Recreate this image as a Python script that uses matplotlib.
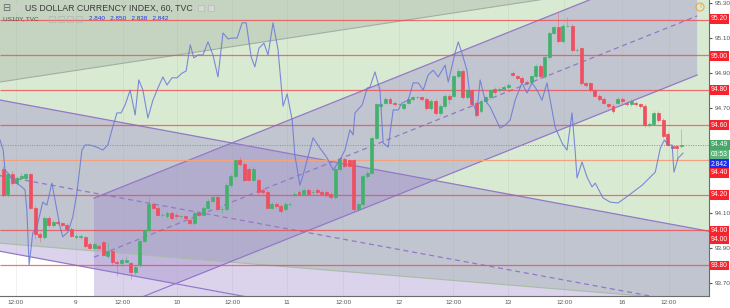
"""US Dollar Currency Index 60-min chart with channels and US10Y overlay."""
import numpy as np
import matplotlib
matplotlib.use("Agg")
import matplotlib.pyplot as plt
from matplotlib.patches import Rectangle

plt.rcParams["font.family"] = ["Liberation Sans", "DejaVu Sans"]

# hourly candles; x = hours from day "9" 00:00 (weekend removed)
T0 = -16
opens = [
    94.35, 94.21, 94.32, 94.27, 94.30, 94.30, 94.32, 94.13, 93.98, 93.96,
    94.07, 94.03, 94.05, 94.04, 94.03, 94.01, 93.96, 93.96, 93.96, 93.92,
    93.90, 93.91, 93.93, 93.85, 93.88, 93.82, 93.81, 93.82, 93.81, 93.76,
    93.80, 93.94, 94.00, 94.15, 94.13, 94.09, 94.08, 94.10, 94.09, 94.08,
    94.08, 94.06, 94.04, 94.10, 94.09, 94.13, 94.17, 94.19, 94.12, 94.12,
    94.26, 94.31, 94.40, 94.38, 94.35, 94.29, 94.29, 94.23, 94.22, 94.13,
    94.15, 94.14, 94.12, 94.15, 94.20, 94.22, 94.21, 94.23, 94.22, 94.23,
    94.22, 94.22, 94.21, 94.19, 94.35, 94.41, 94.40, 94.40, 94.12, 94.15,
    94.31, 94.33, 94.53, 94.71, 94.73, 94.75, 94.73, 94.72, 94.70, 94.73,
    94.75, 94.76, 94.76, 94.75, 94.70, 94.74, 94.67, 94.71, 94.77, 94.77,
    94.88, 94.91, 94.76, 94.80, 94.73, 94.68, 94.74, 94.76, 94.81, 94.80,
    94.81, 94.82, 94.90, 94.88, 94.87, 94.85, 94.85, 94.88, 94.94, 94.88,
    94.99, 95.13, 95.16, 95.08, 95.17, 95.17, 95.03, 95.04, 94.84, 94.84,
    94.80, 94.77, 94.75, 94.72, 94.71, 94.73, 94.75, 94.73, 94.72, 94.73,
    94.72, 94.71, 94.60, 94.61, 94.67, 94.63, 94.55, 94.48, 94.48, 94.48,
]
highs = [
    94.37, 94.33, 94.34, 94.31, 94.33, 94.33, 94.33, 94.14, 93.99, 94.08,
    94.08, 94.06, 94.06, 94.05, 94.04, 94.02, 93.98, 93.98, 93.97, 93.93,
    93.93, 93.92, 93.94, 93.93, 93.89, 93.83, 93.84, 93.85, 93.82, 93.80,
    93.95, 94.01, 94.19, 94.16, 94.14, 94.10, 94.11, 94.11, 94.10, 94.09,
    94.09, 94.07, 94.11, 94.11, 94.14, 94.18, 94.20, 94.20, 94.14, 94.27,
    94.32, 94.41, 94.42, 94.39, 94.36, 94.36, 94.30, 94.24, 94.23, 94.16,
    94.16, 94.15, 94.16, 94.16, 94.22, 94.23, 94.24, 94.24, 94.23, 94.24,
    94.23, 94.23, 94.22, 94.36, 94.42, 94.42, 94.41, 94.41, 94.16, 94.32,
    94.34, 94.54, 94.73, 94.73, 94.76, 94.76, 94.74, 94.73, 94.73, 94.76,
    94.77, 94.77, 94.77, 94.76, 94.75, 94.75, 94.72, 94.78, 94.78, 94.89,
    94.92, 94.92, 94.81, 94.81, 94.74, 94.75, 94.77, 94.81, 94.82, 94.82,
    94.83, 94.84, 94.91, 94.89, 94.88, 94.86, 94.89, 94.95, 94.95, 95.00,
    95.14, 95.17, 95.24, 95.18, 95.22, 95.18, 95.04, 95.05, 94.85, 94.85,
    94.81, 94.78, 94.76, 94.73, 94.72, 94.76, 94.76, 94.74, 94.75, 94.74,
    94.73, 94.72, 94.62, 94.68, 94.68, 94.64, 94.56, 94.49, 94.49, 94.58,
]
lows = [
    94.19, 94.19, 94.26, 94.26, 94.29, 94.29, 94.12, 93.95, 93.93, 93.95,
    94.02, 94.02, 94.03, 94.02, 94.00, 93.96, 93.95, 93.95, 93.90, 93.89,
    93.89, 93.89, 93.85, 93.84, 93.80, 93.74, 93.80, 93.81, 93.72, 93.75,
    93.79, 93.93, 93.99, 94.12, 94.08, 94.08, 94.07, 94.06, 94.07, 94.07,
    94.06, 94.03, 94.03, 94.08, 94.08, 94.12, 94.16, 94.11, 94.10, 94.11,
    94.25, 94.30, 94.37, 94.28, 94.28, 94.28, 94.20, 94.21, 94.12, 94.12,
    94.13, 94.10, 94.11, 94.14, 94.19, 94.20, 94.20, 94.20, 94.21, 94.21,
    94.20, 94.19, 94.18, 94.18, 94.34, 94.36, 94.36, 94.11, 94.11, 94.14,
    94.30, 94.32, 94.52, 94.70, 94.72, 94.72, 94.71, 94.71, 94.69, 94.72,
    94.74, 94.75, 94.74, 94.69, 94.69, 94.66, 94.66, 94.70, 94.72, 94.76,
    94.87, 94.75, 94.75, 94.71, 94.65, 94.67, 94.73, 94.75, 94.78, 94.79,
    94.80, 94.81, 94.88, 94.86, 94.84, 94.83, 94.84, 94.87, 94.87, 94.87,
    94.98, 95.12, 95.07, 95.07, 95.16, 95.02, 95.02, 94.83, 94.82, 94.79,
    94.76, 94.74, 94.72, 94.70, 94.67, 94.72, 94.73, 94.71, 94.71, 94.71,
    94.70, 94.59, 94.59, 94.60, 94.62, 94.53, 94.48, 94.46, 94.40, 94.47,
]
closes = [
    94.20, 94.32, 94.27, 94.30, 94.31, 94.32, 94.13, 93.98, 93.96, 94.07,
    94.03, 94.05, 94.04, 94.03, 94.01, 93.97, 93.97, 93.97, 93.91, 93.90,
    93.92, 93.90, 93.86, 93.88, 93.82, 93.81, 93.83, 93.83, 93.76, 93.79,
    93.94, 94.00, 94.15, 94.13, 94.09, 94.09, 94.10, 94.07, 94.08, 94.08,
    94.07, 94.04, 94.10, 94.09, 94.13, 94.17, 94.19, 94.12, 94.12, 94.26,
    94.31, 94.40, 94.38, 94.29, 94.29, 94.35, 94.22, 94.22, 94.13, 94.15,
    94.14, 94.11, 94.15, 94.15, 94.21, 94.21, 94.23, 94.21, 94.22, 94.22,
    94.21, 94.20, 94.19, 94.35, 94.41, 94.37, 94.37, 94.12, 94.15, 94.31,
    94.33, 94.53, 94.72, 94.72, 94.75, 94.73, 94.72, 94.72, 94.72, 94.75,
    94.76, 94.76, 94.75, 94.70, 94.74, 94.67, 94.71, 94.77, 94.75, 94.88,
    94.91, 94.76, 94.80, 94.72, 94.66, 94.74, 94.76, 94.80, 94.79, 94.81,
    94.82, 94.83, 94.89, 94.87, 94.85, 94.84, 94.88, 94.94, 94.88, 94.99,
    95.13, 95.16, 95.08, 95.17, 95.17, 95.03, 95.03, 94.84, 94.83, 94.80,
    94.77, 94.75, 94.73, 94.71, 94.68, 94.75, 94.74, 94.72, 94.74, 94.72,
    94.71, 94.60, 94.61, 94.67, 94.63, 94.54, 94.49, 94.47, 94.47, 94.49,
]

# US10Y overlay (own scale)
y10_hours = [
    -16.7, -16.0, -15.6, -13.0, -11.9, -11.2, -10.8, -10.3, -9.5, -8.6,
    -7.3, -6.4, -5.3, -4.6, -3.5, -2.9, -1.8, -0.7, 0.2, 1.3,
    2.0, 3.1, 4.6, 5.9, 7.0, 7.9, 9.0, 9.9, 10.8, 11.9,
    13.0, 13.8, 14.7, 15.8, 16.9, 18.0, 19.1, 20.0, 21.1, 22.2,
    23.3, 24.2, 25.1, 25.9, 26.8, 27.9, 29.0, 30.1, 31.2, 32.3,
    33.4, 34.3, 35.4, 36.5, 37.4, 38.5, 39.3, 40.2, 41.3, 42.2,
    43.3, 44.4, 45.5, 46.4, 47.5, 48.1, 49.2, 49.9, 52.1, 53.6,
    55.2, 56.5, 58.0, 59.1, 60.2, 60.9, 61.3, 62.9, 64.0, 64.6,
    65.7, 66.8, 67.5, 68.6, 69.7, 70.8, 71.6, 73.0, 74.1, 75.2,
    76.3, 77.4, 78.5, 79.6, 81.1, 81.8, 83.3, 84.0, 84.8, 85.9,
    86.6, 88.1, 88.8, 89.9, 91.0, 93.2, 94.3, 95.4, 96.5, 98.0,
    99.1, 100.2, 101.3, 102.4, 103.5, 105.3, 106.8, 107.9, 109.0, 109.7,
    110.1, 111.2, 112.3, 113.4, 114.1, 115.8, 117.4, 119.1, 120.7, 124.4,
    127.3, 128.4, 129.3, 130.1, 131.0, 131.4, 132.3, 133.4,
]
y10_values = [
    2.8469, 2.8445, 2.8398, 2.8367, 2.8358, 2.8351, 2.8303, 2.8173, 2.8249, 2.8263,
    2.8322, 2.8315, 2.8367, 2.8327, 2.8263, 2.8240, 2.8251, 2.8287, 2.8344, 2.8445,
    2.8457, 2.8457, 2.8452, 2.8445, 2.8457, 2.8493, 2.8533, 2.8533, 2.8552, 2.8587,
    2.8528, 2.8611, 2.8587, 2.8521, 2.8563, 2.8592, 2.8618, 2.8599, 2.8616, 2.8616,
    2.8627, 2.8632, 2.8694, 2.8663, 2.8670, 2.8670, 2.8701, 2.8670, 2.8618, 2.8722,
    2.8708, 2.8710, 2.8710, 2.8746, 2.8746, 2.8665, 2.8642, 2.8686, 2.8698, 2.8670,
    2.8746, 2.8682, 2.8549, 2.8578, 2.8516, 2.8433, 2.8362, 2.8386, 2.8474, 2.8450,
    2.8426, 2.8398, 2.8422, 2.8445, 2.8493, 2.8481, 2.8533, 2.8552, 2.8592, 2.8594,
    2.8630, 2.8587, 2.8462, 2.8452, 2.8540, 2.8540, 2.8556, 2.8563, 2.8604, 2.8604,
    2.8587, 2.8623, 2.8634, 2.8618, 2.8646, 2.8606, 2.8675, 2.8701, 2.8675, 2.8634,
    2.8571, 2.8533, 2.8611, 2.8563, 2.8547, 2.8497, 2.8504, 2.8516, 2.8563, 2.8604,
    2.8580, 2.8604, 2.8587, 2.8563, 2.8604, 2.8499, 2.8462, 2.8445, 2.8533, 2.8441,
    2.8379, 2.8417, 2.8381, 2.8358, 2.8367, 2.8332, 2.8322, 2.8320, 2.8332, 2.8362,
    2.8393, 2.8450, 2.8469, 2.8457, 2.8457, 2.8393, 2.8426, 2.8438,
]

x_tick_pos = [-13.2, 0, 10.3, 22.2, 34.3, 46.4, 58.7, 71.0, 82.9, 94.9, 107.3, 120.0, 130.3]
x_tick_labels = ["12:00", "9", "12:00", "10", "12:00", "11", "12:00", "12",
                 "12:00", "13", "12:00", "16", "12:00"]
y_ticks = [93.7, 93.9, 94.1, 94.7, 94.9, 95.1, 95.3]

red_levels = [95.20, 95.00, 94.80, 94.60, 94.20, 94.00, 93.80]
orange_level = 94.40
last_price = 94.49

# drawn trend lines: (hour, price) anchors
TOP_LINE = [(-16.7, 94.848), (140, 95.469)]
DESC_UP = [(-16.7, 94.745), (140, 93.990)]
DESC_LO = [(-16.7, 93.880), (140, 93.125)]
GREEN_LO = [(-16.7, 93.926), (140, 93.591)]
ASC_UP = [(3.96, 94.184), (136.5, 95.564)]
ASC_LO = [(3.96, 93.508), (136.5, 94.888)]

# right-side price tags: (text, y pixel from top, colour)
price_tags = [
    ("95.20", 19, "#f7222c"), ("95.00", 56, "#f7222c"), ("94.80", 90, "#f7222c"),
    ("94.60", 125, "#f7222c"), ("94.49", 145, "#47a86a"), ("03:53", 155, "#5fb57c"),
    ("2.842", 164, "#1b2ef0"), ("94.40", 173, "#f7222c"), ("94.20", 195, "#f7222c"),
    ("94.00", 230.5, "#f7222c"), ("94.00", 239.5, "#f7222c"), ("93.80", 265.5, "#f7222c"),
]

C_GREEN = "#43b16d"
C_RED = "#ef4f5e"
C_PURPLE = "#9378c8"
C_FILL = "#9682c8"

XL = (-16.7, 139.1)
YL = (93.624, 95.317)
W, H = 730, 308


def at(line, t):
    (t0, p0), (t1, p1) = line
    return p0 + (p1 - p0) * (np.asarray(t) - t0) / (t1 - t0)


fig = plt.figure(figsize=(W / 100, H / 100), dpi=100)
fig.patch.set_facecolor("white")
ax = fig.add_axes([0, 12 / H, 709 / W, 296 / H])
ax.set_facecolor("white")
ax2 = ax.twinx()

# background regions
tt = np.linspace(-20, 142, 400)
ax.fill_between(tt, at(GREEN_LO, tt), 96, color="#d9ead3", lw=0, zorder=0.2)
ax.fill_between(tt, at(TOP_LINE, tt), 96, color="#7d8a7d", alpha=0.22, lw=0, zorder=0.3)
ax.fill_between(tt, at(DESC_LO, tt), at(DESC_UP, tt), color=C_FILL, alpha=0.35, lw=0, zorder=0.4)
tb = np.linspace(3.96, 60, 200)
ax.fill_between(tb, 93.0, np.minimum(at(DESC_LO, tb), at(ASC_LO, tb)),
                color=C_FILL, alpha=0.35, lw=0, zorder=0.45)
ta = np.linspace(3.96, 136.5, 200)
ax.fill_between(ta, at(ASC_LO, ta), at(ASC_UP, ta), color=C_FILL, alpha=0.35, lw=0, zorder=0.5)

for pos in x_tick_pos:
    ax.axvline(pos, color="#8f9f8f", lw=0.5, alpha=0.18, zorder=0.6)

# channel lines
ax.plot(tt, at(TOP_LINE, tt), color="#a3ada3", lw=0.8, zorder=0.8)
ax.plot(tt, at(GREEN_LO, tt), color="#a8bca6", lw=0.8, zorder=0.8)
ax.plot(tt, at(DESC_UP, tt), color=C_PURPLE, lw=0.9, zorder=0.8)
ax.plot(tt, at(DESC_LO, tt), color=C_PURPLE, lw=0.9, zorder=0.8)
ax.plot(tt, (at(DESC_UP, tt) + at(DESC_LO, tt)) / 2, color=C_PURPLE, lw=0.9,
        ls=(0, (4, 3)), zorder=0.8)
ax.plot(ta, at(ASC_UP, ta), color=C_PURPLE, lw=0.9, zorder=0.8)
ax.plot(ta, at(ASC_LO, ta), color=C_PURPLE, lw=0.9, zorder=0.8)
ax.plot(ta, (at(ASC_UP, ta) + at(ASC_LO, ta)) / 2, color=C_PURPLE, lw=0.9,
        ls=(0, (4, 3)), zorder=0.8)

# horizontal levels
ax.hlines(red_levels, XL[0], XL[1], colors="#f0454c", lw=0.9, alpha=0.75, zorder=1)
ax.hlines(orange_level, XL[0], XL[1], colors="#f3a27f", lw=0.9, zorder=1)
ax.axhline(last_price, color="#4fb66f", lw=0.7, ls=(0, (1, 1.5)), zorder=1.2)

# candles
o = np.array(opens)
c = np.array(closes)
t = T0 + np.arange(len(o))
cols = np.where(c >= o, C_GREEN, C_RED)
ax.vlines(t, lows, highs, colors=cols, lw=0.6, alpha=0.5, zorder=2)
ax.bar(t, c - o, bottom=o, width=0.65, color=cols, edgecolor=cols, lw=0.5, zorder=3)

ax.set_xlim(*XL)
ax.set_ylim(*YL)
for s in ["left", "top"]:
    ax.spines[s].set_visible(False)
for s in ["bottom", "right"]:
    ax.spines[s].set_color("#6b6b6b")
    ax.spines[s].set_linewidth(0.8)
ax.set_yticks(y_ticks)
ax.set_yticklabels([f"{v:.2f}" for v in y_ticks])
ax.yaxis.tick_right()
ax.tick_params(axis="y", labelsize=4.6, colors="#555555", length=2, pad=2,
               left=False, labelleft=False, right=True, labelright=True)
ax.set_xticks(x_tick_pos)
ax.set_xticklabels(x_tick_labels)
ax.tick_params(axis="x", labelsize=4.6, colors="#555555", length=0, pad=3)

# US10Y on its own scale
ax2.plot(y10_hours, y10_values, color="#6a78d6", lw=0.8, alpha=0.85)
ax2.set_ylim(2.810, 2.880)
ax2.set_xlim(*XL)
ax2.set_yticks([])
for s in ax2.spines.values():
    s.set_visible(False)


# header texts
def fx(px):
    return px / W


def fy(py):
    return 1 - py / H


fig.text(fx(2), fy(8), "\u229f", fontsize=7, color="#666666", va="center",
         family=["DejaVu Sans"])
fig.patches.append(Rectangle((fx(15), fy(11)), fx(6), 6 / H, transform=fig.transFigure,
                             facecolor="#c9cfc9", edgecolor="none"))
fig.text(fx(25), fy(8), "US DOLLAR CURRENCY INDEX, 60, TVC", fontsize=6.3,
         color="#3a3a3a", va="center")
for px in [198, 208]:
    fig.patches.append(Rectangle((fx(px), fy(11)), fx(6), 6 / H, transform=fig.transFigure,
                                 facecolor="#d4d9d4", edgecolor="#b5bbb5", lw=0.5))
fig.text(fx(3), fy(19), "US10Y, TVC", fontsize=4.6, color="#555555", va="center")
for px in [49, 58, 67, 76]:
    fig.patches.append(Rectangle((fx(px), fy(21.5)), fx(5.5), 5.5 / H,
                                 transform=fig.transFigure, facecolor="none",
                                 edgecolor="#b0b6b0", lw=0.5))
fig.text(fx(89), fy(19), "2.840   2.850   2.838   2.842", fontsize=4.6,
         color="#2b35e0", va="center")
fig.text(fx(700), fy(7), "!", fontsize=4.5, color="#f0a040", ha="center", va="center",
         fontweight="bold",
         bbox=dict(boxstyle="circle,pad=0.25", facecolor="none", edgecolor="#f0a040", lw=0.7))

# price tags on the right axis
for label, py, col in price_tags:
    fig.text(fx(711), fy(py), label, fontsize=4.9, color="white", ha="left", va="center",
             bbox=dict(boxstyle="square,pad=0.18", facecolor=col, edgecolor="none"))

fig.savefig("out.png", dpi=100, facecolor="white")
